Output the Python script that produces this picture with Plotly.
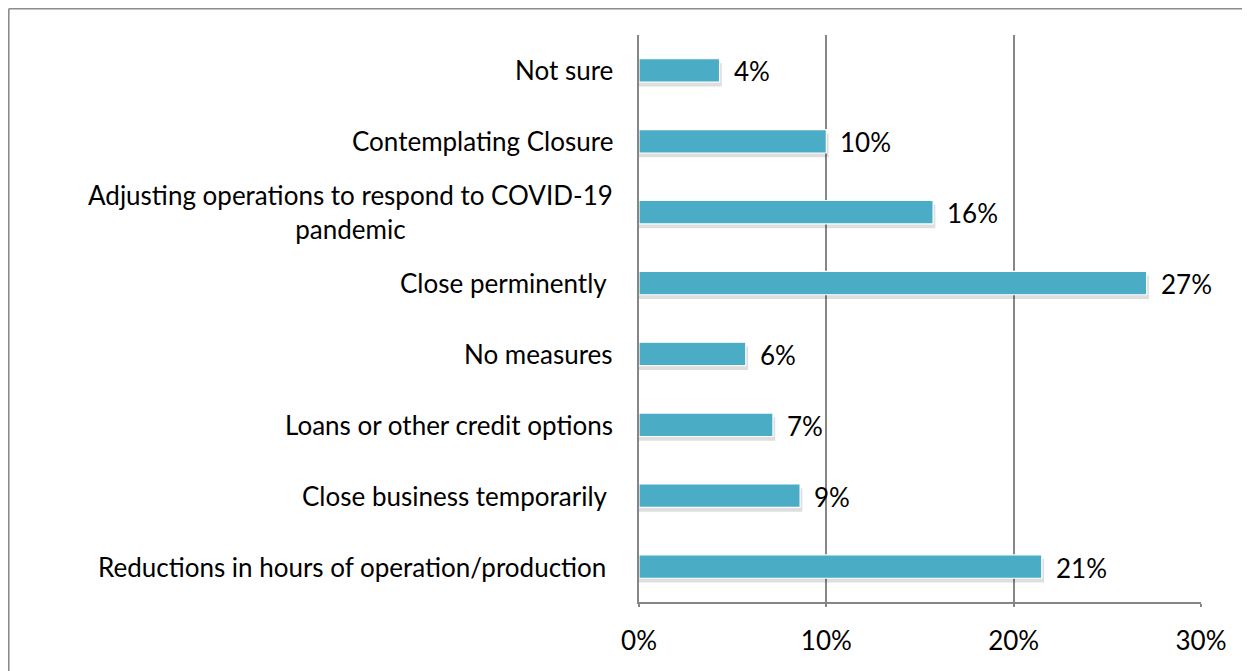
import plotly.graph_objects as go

categories = [
    "Not sure",
    "Contemplating Closure",
    "Adjusting operations to respond to COVID-19<br>pandemic",
    "Close perminently\u00a0",
    "No measures",
    "Loans or other credit options",
    "Close business temporarily\u00a0",
    "Reductions in hours of operation/production\u00a0",
]
values = [4.3, 10.0, 15.7, 27.1, 5.7, 7.15, 8.6, 21.5]
value_labels = ["4%", "10%", "16%", "27%", "6%", "7%", "9%", "21%"]
x_tickvals = [0, 10, 20, 30]
x_ticktext = ["0%", "10%", "20%", "30%"]

FONT = "Lato"
FS = 26
BAR_W = 0.33
ypos = list(range(len(categories)))

fig = go.Figure()

# soft shadow under bars
fig.add_trace(go.Bar(
    y=ypos, x=[v + 0.12 for v in values], orientation="h",
    width=BAR_W, offset=-BAR_W / 2 + 0.06,
    marker=dict(color="rgba(0,0,0,0.13)", line=dict(width=0)),
    hoverinfo="skip", showlegend=False,
))
fig.add_trace(go.Bar(
    y=ypos, x=values, orientation="h",
    width=BAR_W, offset=-BAR_W / 2,
    marker=dict(color="#4BACC6", line=dict(color="white", width=1.2)),
    showlegend=False,
))

for yi, v, lab in zip(ypos, values, value_labels):
    fig.add_annotation(x=v, y=yi, text=lab, xref="x", yref="y",
                       xanchor="left", yanchor="middle", xshift=12, yshift=-1,
                       showarrow=False, font=dict(family=FONT, size=FS, color="black"))

for yi, cat in zip(ypos, categories):
    fig.add_annotation(x=0, y=yi, text=cat, xref="paper", yref="y",
                       xanchor="right", yanchor="middle", xshift=-24, align="center",
                       showarrow=False, font=dict(family=FONT, size=FS, color="black"))

OFF = 8  # page body margin
L, R, T, B = 639 - OFF, 49 + OFF, 35 - OFF, 69 + OFF
W, H = 1250, 671
pw, ph = W - L - R, H - T - B
fx = (0.8 - L) / pw
fy = (H - B - 0.8) / ph

fig.add_shape(type="line", xref="paper", yref="paper", x0=fx, x1=(W + 20 - L) / pw, y0=fy, y1=fy,
              line=dict(color="#8c8c8c", width=1.6))
fig.add_shape(type="line", xref="paper", yref="paper", x0=fx, x1=fx, y0=-B / ph - 0.05, y1=fy,
              line=dict(color="#8c8c8c", width=1.6))

fig.update_layout(
    width=W, height=H,
    margin=dict(l=L, r=R, t=T, b=B),
    paper_bgcolor="white", plot_bgcolor="white",
    barmode="overlay",
    font=dict(family=FONT, size=FS, color="black"),
    xaxis=dict(range=[0, 30], tickvals=x_tickvals, ticktext=x_ticktext,
               showgrid=True, gridcolor="#868686", gridwidth=1.5,
               showline=True, linecolor="#868686", linewidth=1.5,
               ticks="outside", ticklen=3, tickcolor="#868686", tickwidth=1.5,
               ticklabelstandoff=12, zeroline=False,
               tickfont=dict(family=FONT, size=FS, color="black")),
    yaxis=dict(range=[len(categories) - 0.5, -0.5], tickvals=ypos, showticklabels=False,
               showgrid=False, showline=True, linecolor="#868686", linewidth=1.5,
               ticks="", zeroline=False),
)

fig.write_html("out.html")
